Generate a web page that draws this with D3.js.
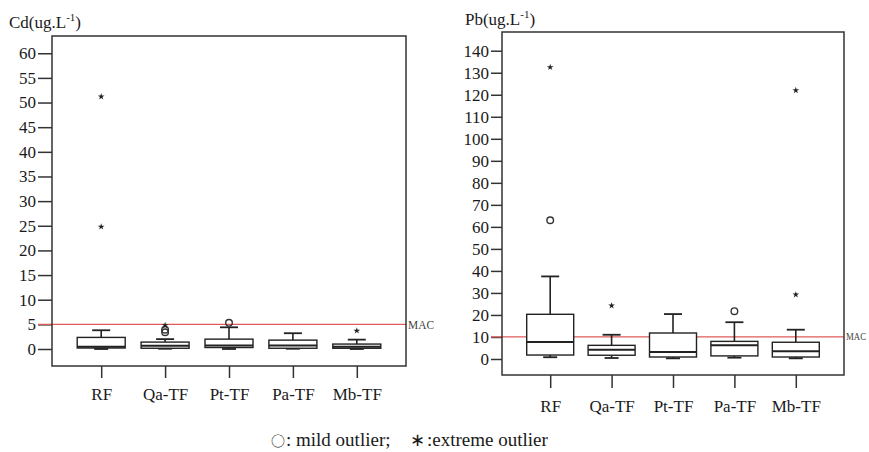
<!DOCTYPE html>
<html>
<head>
<meta charset="utf-8">
<script src="https://cdn.jsdelivr.net/npm/d3@7"></script>
<style>
    body { margin: 0; background: #ffffff; }
    svg text { font-family: "Liberation Serif", "Times New Roman", Tinos, "DejaVu Serif", serif; fill: #1a1a1a; }
</style>
</head>
<body>
<div id="chart"></div>
<script>
const groups = ["RF", "Qa-TF", "Pt-TF", "Pa-TF", "Mb-TF"]

// Cd (ug/L) box statistics, one value per group
const cdLow = [0, 0.05, 0, 0.05, 0]
const cdQ1 = [0.2, 0.15, 0.3, 0.15, 0.15]
const cdMedian = [0.45, 0.65, 0.7, 0.7, 0.45]
const cdQ3 = [2.35, 1.4, 2.0, 1.8, 1.0]
const cdHigh = [3.8, 2.0, 4.4, 3.2, 1.9]
const cdMild = [["Qa-TF", 3.4], ["Qa-TF", 3.9], ["Pt-TF", 5.3]]
const cdExtreme = [["RF", 51.2], ["RF", 24.8], ["Qa-TF", 4.8], ["Mb-TF", 3.7]]
const cdTicks = [0, 5, 10, 15, 20, 25, 30, 35, 40, 45, 50, 55, 60]
const cdMAC = 5

// Pb (ug/L)
const pbLow = [0.8, 0.45, 0.3, 0.6, 0.3]
const pbQ1 = [1.8, 1.7, 0.9, 1.4, 0.9]
const pbMedian = [7.7, 4.2, 3.2, 6.2, 3.5]
const pbQ3 = [20.3, 6.2, 11.8, 8.0, 7.6]
const pbHigh = [37.5, 11.0, 20.4, 16.7, 13.3]
const pbMild = [["RF", 63], ["Pa-TF", 21.7]]
const pbExtreme = [["RF", 132.5], ["Qa-TF", 24.2], ["Mb-TF", 29.2], ["Mb-TF", 122]]
const pbTicks = [0, 10, 20, 30, 40, 50, 60, 70, 80, 90, 100, 110, 120, 130, 140]
const pbMAC = 10

const svg = d3.select("#chart")
    .append("svg")
    .attr("width", 869)
    .attr("height", 452)

function drawPanel(p) {
    let x = d3.scalePoint()
        .domain(groups)
        .range([p.left, p.right])
        .padding(p.pad)

    let y = d3.scaleLinear()
        .domain(p.domain)
        .range([p.bottom, p.top])

    let g = svg.append("g")

    // y ticks
    let yAxis = g.append("g")
        .attr("transform", `translate(${p.left},0)`)
        .call(d3.axisLeft(y).tickValues(p.ticks).tickSize(p.tickLen).tickPadding(2))
    yAxis.select(".domain").remove()
    yAxis.selectAll("line").attr("stroke", "#333").attr("stroke-width", 1.5)
    yAxis.selectAll("text")
        .attr("font-size", "17px")
        .attr("fill", "#1a1a1a")

    // x ticks
    let xAxis = g.append("g")
        .attr("transform", `translate(0,${p.bottom})`)
        .call(d3.axisBottom(x).tickSize(p.xTickLen).tickPadding(p.xPad))
    xAxis.select(".domain").remove()
    xAxis.selectAll("line").attr("stroke", "#333").attr("stroke-width", 1.5)
    xAxis.selectAll("text")
        .attr("font-size", "17px")
        .attr("fill", "#1a1a1a")

    // MAC line
    g.append("line")
        .attr("x1", p.left - p.tickLen)
        .attr("x2", p.right)
        .attr("y1", y(p.mac))
        .attr("y2", y(p.mac))
        .attr("stroke", "#e05a5a")
        .attr("stroke-width", 1.3)
    g.append("text")
        .attr("x", p.right + 2)
        .attr("y", y(p.mac))
        .attr("dy", "0.35em")
        .attr("font-size", p.macSize)
        .attr("textLength", p.macLen)
        .attr("lengthAdjust", "spacingAndGlyphs")
        .style("fill", "#444")
        .text("MAC")

    let bw = p.boxWidth
    let rows = groups.map(function (d, i) {
        return { name: d, low: p.low[i], q1: p.q1[i], med: p.median[i], q3: p.q3[i], high: p.high[i] }
    })

    let box = g.selectAll(".bx")
        .data(rows)
        .enter().append("g")

    // whiskers
    box.append("line")
        .attr("x1", function (d) { return x(d.name) })
        .attr("x2", function (d) { return x(d.name) })
        .attr("y1", function (d) { return y(d.high) })
        .attr("y2", function (d) { return y(d.q3) })
        .attr("stroke", "#222").attr("stroke-width", 1.6)
    box.append("line")
        .attr("x1", function (d) { return x(d.name) })
        .attr("x2", function (d) { return x(d.name) })
        .attr("y1", function (d) { return y(d.low) })
        .attr("y2", function (d) { return y(d.q1) })
        .attr("stroke", "#222").attr("stroke-width", 1.6)
    box.append("line")
        .attr("x1", function (d) { return x(d.name) - 9 })
        .attr("x2", function (d) { return x(d.name) + 9 })
        .attr("y1", function (d) { return y(d.high) })
        .attr("y2", function (d) { return y(d.high) })
        .attr("stroke", "#222").attr("stroke-width", 1.8)
    box.append("line")
        .attr("x1", function (d) { return x(d.name) - 7 })
        .attr("x2", function (d) { return x(d.name) + 7 })
        .attr("y1", function (d) { return y(d.low) })
        .attr("y2", function (d) { return y(d.low) })
        .attr("stroke", "#222").attr("stroke-width", 1.8)

    box.append("rect")
        .attr("x", function (d) { return x(d.name) - bw / 2 })
        .attr("width", bw)
        .attr("y", function (d) { return y(d.q3) })
        .attr("height", function (d) { return y(d.q1) - y(d.q3) })
        .attr("fill", "#fff")
        .attr("stroke", "#222")
        .attr("stroke-width", 1.4)

    box.append("line")
        .attr("x1", function (d) { return x(d.name) - bw / 2 })
        .attr("x2", function (d) { return x(d.name) + bw / 2 })
        .attr("y1", function (d) { return y(d.med) })
        .attr("y2", function (d) { return y(d.med) })
        .attr("stroke", "#222").attr("stroke-width", 2)

    // outliers
    g.selectAll(".mild")
        .data(p.mild)
        .enter().append("circle")
        .attr("cx", function (d) { return x(d[0]) })
        .attr("cy", function (d) { return y(d[1]) })
        .attr("r", 3.3)
        .attr("fill", "none")
        .attr("stroke", "#333")
        .attr("stroke-width", 1.4)

    g.selectAll(".ext")
        .data(p.extreme)
        .enter().append("path")
        .attr("transform", function (d) { return `translate(${x(d[0])},${y(d[1])})` })
        .attr("d", d3.symbol().type(d3.symbolStar).size(14))
        .attr("fill", "#222")

    // frame
    g.append("rect")
        .attr("x", p.left)
        .attr("y", p.top)
        .attr("width", p.right - p.left)
        .attr("height", p.bottom - p.top)
        .attr("fill", "none")
        .attr("stroke", "#333")
        .attr("stroke-width", 1.5)

    // title
    let t = g.append("text")
        .attr("x", p.titleX)
        .attr("y", p.titleY)
        .attr("font-size", "17px")
    t.append("tspan").text(p.title)
    t.append("tspan").attr("font-size", "11px").attr("dy", "-7").text("-1")
    t.append("tspan").attr("dy", "7").text(")")
}

drawPanel({
    left: 52, right: 406, top: 36, bottom: 366, pad: 0.77,
    domain: [-3.45, 63.5], ticks: cdTicks, tickLen: 14, xTickLen: 12, xPad: 10,
    low: cdLow, q1: cdQ1, median: cdMedian, q3: cdQ3, high: cdHigh,
    mild: cdMild, extreme: cdExtreme, mac: cdMAC, boxWidth: 48, macLen: 26, macSize: "13px",
    title: "Cd(ug.L", titleX: 9, titleY: 28
})

drawPanel({
    left: 502, right: 844, top: 32, bottom: 375, pad: 0.785,
    domain: [-7.27, 148.5], ticks: pbTicks, tickLen: 11, xTickLen: 13, xPad: 12,
    low: pbLow, q1: pbQ1, median: pbMedian, q3: pbQ3, high: pbHigh,
    mild: pbMild, extreme: pbExtreme, mac: pbMAC, boxWidth: 47, macLen: 20, macSize: "10px",
    title: "Pb(ug.L", titleX: 465, titleY: 25
})

// legend line at the bottom
let legend = svg.append("text")
    .attr("y", 446)
    .attr("font-size", "19px")
legend.append("tspan").attr("x", 271).attr("font-size", "14px")
    .style("font-family", "'Noto Sans CJK SC', 'DejaVu Sans', sans-serif").text("\u25CB")
legend.append("tspan").attr("x", 286).text(": mild outlier;")
legend.append("tspan").attr("x", 410).attr("font-size", "18px")
    .style("font-family", "'DejaVu Sans', sans-serif").text("\u2217")
legend.append("tspan").attr("x", 427).text(":extreme outlier")
</script>
</body>
</html>
